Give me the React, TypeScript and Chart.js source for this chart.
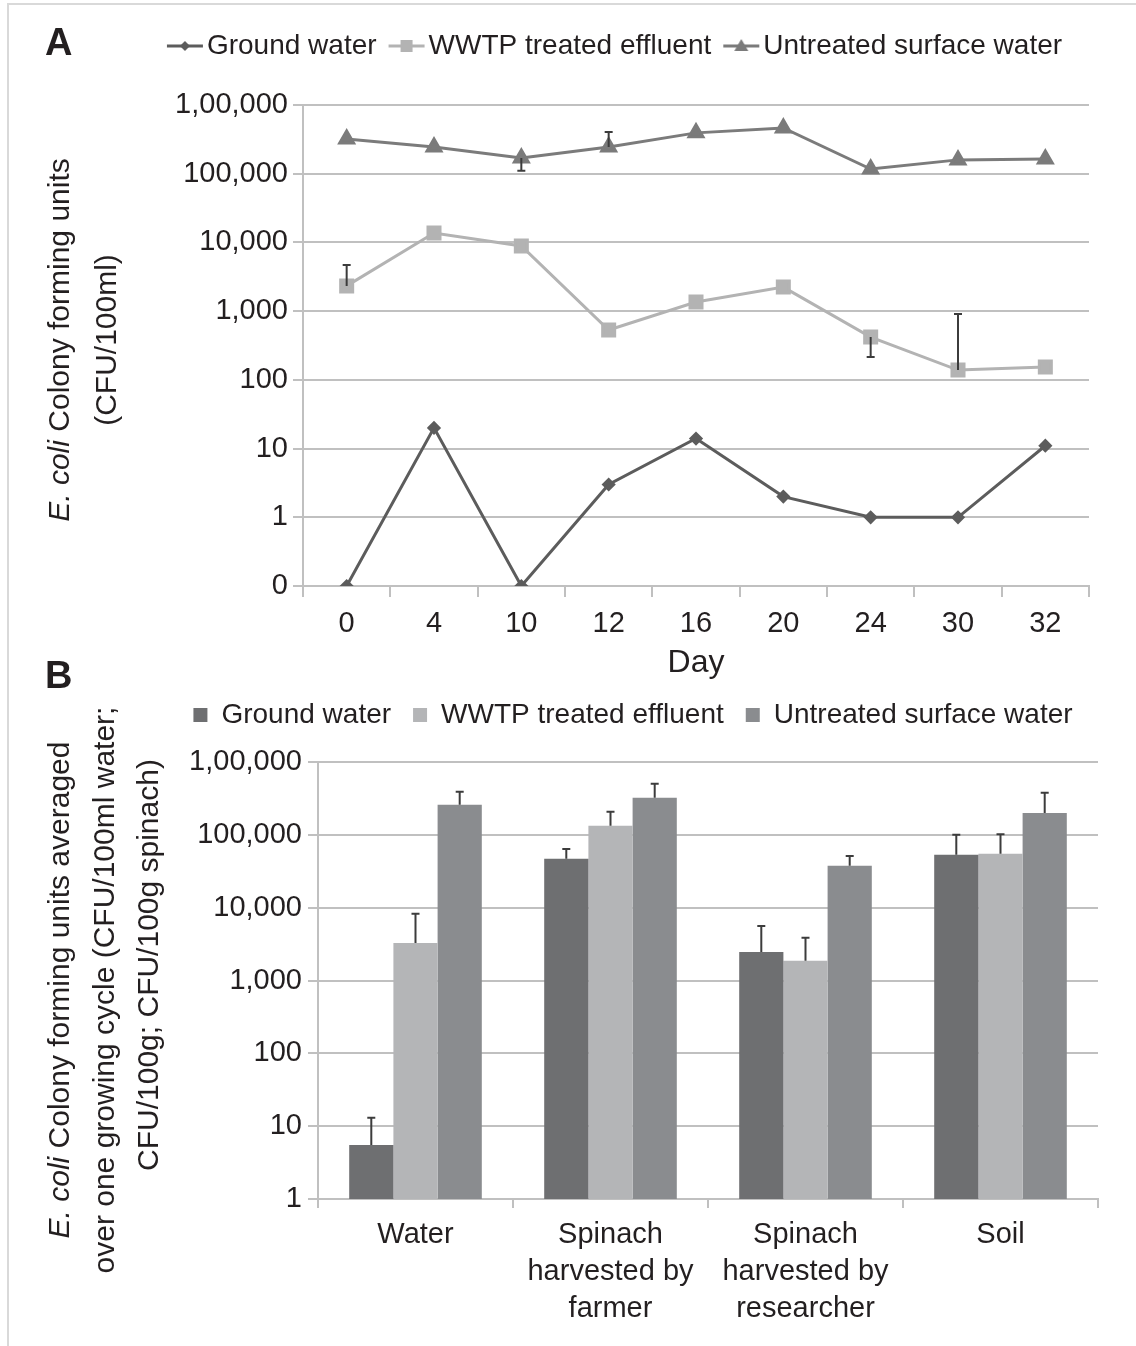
import React, { useEffect, useRef } from 'react';
import { Chart, registerables } from 'chart.js';

Chart.register(...registerables);

const FONT = "'Liberation Sans', Arial, Helvetica, sans-serif";
const TEXT = '#231f20';
const GRID = '#c0c0c0';
const ERR = '#3c3c3c';

// ---------- Panel A data ----------
const days = ['0', '4', '10', '12', '16', '20', '24', '30', '32'];
const groundA = [0, 20, 0, 3, 14, 2, 1, 1, 11];
const wwtpA = [2330, 13700, 8900, 532, 1360, 2240, 420, 139, 154];
const untreatedA = [321000, 245000, 170000, 245000, 393000, 464000, 117000, 159000, 164000];
const wwtpErrEndA = [4700, null, null, null, null, null, 215, 910, null];
const untreatedErrEndA = [null, null, 110000, 405000, null, null, null, null, null];
const tickLabelsA = ['0', '1', '10', '100', '1,000', '10,000', '100,000', '1,00,000'];

// ---------- Panel B data ----------
const sitesB = [
  'Water',
  ['Spinach', 'harvested by', 'farmer'],
  ['Spinach', 'harvested by', 'researcher'],
  'Soil',
];
const groundB = [5.5, 46800, 2470, 53100];
const wwtpB = [3280, 133000, 1860, 54800];
const untreatedB = [258000, 322000, 37500, 200000];
const groundErrEndB = [13, 64000, 5620, 100000];
const wwtpErrEndB = [8220, 207000, 3850, 102000];
const untreatedErrEndB = [390000, 502000, 51400, 378000];
const tickValuesB = [1, 10, 100, 1000, 10000, 100000, 1000000];
const tickLabelsB = ['1', '10', '100', '1,000', '10,000', '100,000', '1,00,000'];

const seriesNames = ['Ground water', 'WWTP treated effluent', 'Untreated surface water'];

const lineColors = ['#5c5c5c', '#b3b3b3', '#7b7b7b'];
const barColors = ['#6e6f71', '#b4b5b7', '#8a8c8f'];

const toLevel = (v: number) => (v > 0 ? Math.log10(v) + 1 : 0);

const errorBarPlugin = {
  id: 'errorBars',
  afterDatasetsDraw(chart: any, _args: any, opts: any) {
    const ctx = chart.ctx;
    const yScale = chart.scales.y;
    const cap = opts.cap || 8;
    chart.data.datasets.forEach((ds: any, i: number) => {
      const ends = ds.errEnd;
      if (!ends) return;
      const meta = chart.getDatasetMeta(i);
      ctx.save();
      ctx.strokeStyle = opts.color || ERR;
      ctx.lineWidth = opts.width || 2;
      meta.data.forEach((el: any, j: number) => {
        const e = ends[j];
        if (e == null) return;
        const x = el.x;
        const y0 = el.y;
        const y1 = yScale.getPixelForValue(opts.transform ? opts.transform(e) : e);
        ctx.beginPath();
        ctx.moveTo(x, y0);
        ctx.lineTo(x, y1);
        ctx.moveTo(x - cap / 2, y1);
        ctx.lineTo(x + cap / 2, y1);
        ctx.stroke();
      });
      ctx.restore();
    });
  },
};

function makeIcon(color: string, kind: string) {
  const c = document.createElement('canvas');
  c.width = 40;
  c.height = 18;
  const g = c.getContext('2d') as CanvasRenderingContext2D;
  g.strokeStyle = color;
  g.lineWidth = 3;
  g.beginPath();
  g.moveTo(2, 9);
  g.lineTo(38, 9);
  g.stroke();
  g.fillStyle = color;
  g.beginPath();
  if (kind === 'diamond') {
    g.moveTo(20, 4);
    g.lineTo(25, 9);
    g.lineTo(20, 14);
    g.lineTo(15, 9);
  } else if (kind === 'square') {
    g.rect(14, 3, 12, 12);
  } else {
    g.moveTo(20, 2);
    g.lineTo(27, 14);
    g.lineTo(13, 14);
  }
  g.closePath();
  g.fill();
  return c;
}

export default function App() {
  const refA = useRef<HTMLCanvasElement | null>(null);
  const refB = useRef<HTMLCanvasElement | null>(null);

  useEffect(() => {
    Chart.defaults.font.family = FONT;
    Chart.defaults.color = TEXT;

    const icons = [
      makeIcon(lineColors[0], 'diamond'),
      makeIcon(lineColors[1], 'square'),
      makeIcon(lineColors[2], 'triangle'),
    ];

    const chartA = new Chart(refA.current as HTMLCanvasElement, {
      type: 'line',
      data: {
        labels: days,
        datasets: [
          {
            label: seriesNames[0],
            data: groundA.map(toLevel),
            borderColor: lineColors[0],
            backgroundColor: lineColors[0],
            pointBackgroundColor: lineColors[0],
            pointBorderColor: lineColors[0],
            pointStyle: 'rectRot',
            pointRadius: 5,
            borderWidth: 3,
            tension: 0,
          },
          {
            label: seriesNames[1],
            data: wwtpA.map(toLevel),
            borderColor: lineColors[1],
            backgroundColor: lineColors[1],
            pointBackgroundColor: lineColors[1],
            pointBorderColor: lineColors[1],
            pointStyle: 'rect',
            pointRadius: 8.5,
            borderWidth: 3,
            tension: 0,
            errEnd: wwtpErrEndA,
          } as any,
          {
            label: seriesNames[2],
            data: untreatedA.map(toLevel),
            borderColor: lineColors[2],
            backgroundColor: lineColors[2],
            pointBackgroundColor: lineColors[2],
            pointBorderColor: lineColors[2],
            pointStyle: 'triangle',
            pointRadius: 8,
            borderWidth: 3,
            tension: 0,
            errEnd: untreatedErrEndA,
          } as any,
        ],
      },
      options: {
        responsive: false,
        animation: false,
        devicePixelRatio: 1,
        events: [],
        layout: { padding: { left: 150, right: 47, top: 10, bottom: 25 } },
        plugins: {
          legend: {
            display: true,
            position: 'top',
            labels: {
              usePointStyle: true,
              pointStyleWidth: 16,
              padding: 22,
              color: TEXT,
              font: { size: 28, family: FONT },
              generateLabels: (chart: any) => {
                const items = (Chart.defaults.plugins.legend.labels as any).generateLabels(chart);
                return items.map((it: any, i: number) => ({ ...it, pointStyle: icons[i], fontColor: TEXT }));
              },
            },
          },
          subtitle: {
            display: true,
            text: '',
            padding: { top: 25, bottom: 0 },
            font: { size: 10, lineHeight: 1 },
            weight: 500,
          } as any,
          tooltip: { enabled: false },
          errorBars: { color: ERR, width: 2, cap: 8, transform: toLevel },
        } as any,
        scales: {
          x: {
            type: 'category',
            offset: true,
            grid: {
              offset: true,
              drawOnChartArea: false,
              drawTicks: true,
              tickLength: 11,
              color: GRID,
              lineWidth: 2,
            },
            border: { display: true, color: GRID, width: 2 },
            ticks: {
              color: TEXT,
              font: { size: 29, family: FONT },
              padding: 9.6,
              maxRotation: 0,
              autoSkip: false,
            },
            title: {
              display: true,
              text: 'Day',
              color: TEXT,
              font: { size: 32, family: FONT, lineHeight: 0.75 },
              padding: 0,
            },
          },
          y: {
            type: 'linear',
            min: 0,
            max: 7,
            afterFit: (s: any) => {
              s.width = 153;
            },
            ticks: {
              stepSize: 1,
              color: TEXT,
              font: { size: 29, family: FONT },
              padding: 5,
              callback: (v: any) => tickLabelsA[Number(v)],
            },
            grid: { color: GRID, lineWidth: 2, drawTicks: true, tickLength: 10 },
            border: { display: true, color: GRID, width: 2 },
          },
        },
      } as any,
      plugins: [errorBarPlugin as any],
    });

    const chartB = new Chart(refB.current as HTMLCanvasElement, {
      type: 'bar',
      data: {
        labels: sitesB as any,
        datasets: [
          {
            label: seriesNames[0],
            data: groundB,
            backgroundColor: barColors[0],
            borderColor: barColors[0],
            borderWidth: 0,
            errEnd: groundErrEndB,
          } as any,
          {
            label: seriesNames[1],
            data: wwtpB,
            backgroundColor: barColors[1],
            borderColor: barColors[1],
            borderWidth: 0,
            errEnd: wwtpErrEndB,
          } as any,
          {
            label: seriesNames[2],
            data: untreatedB,
            backgroundColor: barColors[2],
            borderColor: barColors[2],
            borderWidth: 0,
            errEnd: untreatedErrEndB,
          } as any,
        ],
      },
      options: {
        responsive: false,
        animation: false,
        devicePixelRatio: 1,
        events: [],
        layout: { padding: { left: 168, right: 38, top: 39, bottom: 10 } },
        datasets: { bar: { categoryPercentage: 0.68, barPercentage: 1 } },
        plugins: {
          legend: {
            display: true,
            position: 'top',
            labels: {
              boxWidth: 14,
              boxHeight: 14,
              padding: 22,
              color: TEXT,
              font: { size: 28, family: FONT },
            },
          },
          subtitle: {
            display: true,
            text: '',
            padding: { top: 13, bottom: 0 },
            font: { size: 10, lineHeight: 1 },
            weight: 500,
          } as any,
          tooltip: { enabled: false },
          errorBars: { color: ERR, width: 2, cap: 8 },
        } as any,
        scales: {
          x: {
            type: 'category',
            offset: true,
            grid: {
              offset: true,
              drawOnChartArea: false,
              drawTicks: true,
              tickLength: 9,
              color: GRID,
              lineWidth: 2,
            },
            border: { display: true, color: GRID, width: 2 },
            ticks: {
              color: TEXT,
              font: { size: 29, family: FONT, lineHeight: 37 / 29 },
              padding: 8.5,
              maxRotation: 0,
              autoSkip: false,
            },
          },
          y: {
            type: 'logarithmic',
            min: 1,
            max: 1000000,
            afterFit: (s: any) => {
              s.width = 150;
            },
            afterBuildTicks: (s: any) => {
              s.ticks = tickValuesB.map((v) => ({ value: v }));
            },
            ticks: {
              color: TEXT,
              font: { size: 29, family: FONT },
              padding: 6,
              callback: (_v: any, i: number) => tickLabelsB[i],
            },
            grid: { color: GRID, lineWidth: 2, drawTicks: true, tickLength: 10 },
            border: { display: true, color: GRID, width: 2 },
          },
        },
      } as any,
      plugins: [errorBarPlugin as any],
    });

    return () => {
      chartA.destroy();
      chartB.destroy();
    };
  }, []);

  const titleStyle: React.CSSProperties = {
    position: 'absolute',
    fontFamily: FONT,
    fontSize: 30,
    color: TEXT,
    textAlign: 'center',
    transform: 'rotate(-90deg)',
    transformOrigin: 'center center',
    whiteSpace: 'nowrap',
  };

  return (
    <div
      style={{
        position: 'absolute',
        left: 0,
        top: 0,
        width: 1136,
        height: 1346,
        overflow: 'hidden',
        background: '#ffffff',
      }}
    >
      <div
        style={{
          position: 'absolute',
          left: 7,
          top: 3,
          width: 1140,
          height: 1350,
          borderTop: '2px solid #d9d9d9',
          borderLeft: '2px solid #d9d9d9',
        }}
      />
      <canvas
        ref={refA}
        width={1136}
        height={700}
        style={{ position: 'absolute', left: 0, top: 0, width: 1136, height: 700 }}
      />
      <canvas
        ref={refB}
        width={1136}
        height={706}
        style={{ position: 'absolute', left: 0, top: 640, width: 1136, height: 706 }}
      />
      <div
        style={{
          position: 'absolute',
          left: 45,
          top: 23,
          fontFamily: FONT,
          fontWeight: 'bold',
          fontSize: 38,
          lineHeight: '38px',
          color: TEXT,
        }}
      >
        A
      </div>
      <div
        style={{
          position: 'absolute',
          left: 45,
          top: 656,
          fontFamily: FONT,
          fontWeight: 'bold',
          fontSize: 38,
          lineHeight: '38px',
          color: TEXT,
        }}
      >
        B
      </div>
      <div
        style={{
          ...titleStyle,
          left: 82 - 250,
          top: 340 - 47,
          width: 500,
          height: 94,
          lineHeight: '47px',
        }}
      >
        <div>
          <i>E. coli</i> Colony forming units
        </div>
        <div>(CFU/100ml)</div>
      </div>
      <div
        style={{
          ...titleStyle,
          left: 104 - 350,
          top: 990 - 67,
          width: 700,
          height: 134,
          lineHeight: '44.5px',
        }}
      >
        <div>
          <i>E. coli</i> Colony forming units averaged
        </div>
        <div>over one growing cycle (CFU/100ml water;</div>
        <div style={{ paddingLeft: 50 }}>CFU/100g; CFU/100g spinach)</div>
      </div>
    </div>
  );
}
